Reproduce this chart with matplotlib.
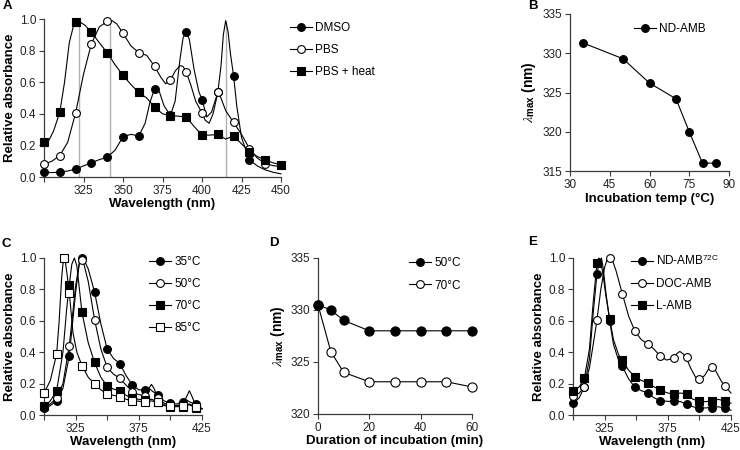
import matplotlib
matplotlib.use('Agg')
import matplotlib.pyplot as plt
from matplotlib.lines import Line2D

plt.rcParams['font.family'] = ['Liberation Sans', 'DejaVu Sans']
plt.rcParams['mathtext.fontset'] = 'stix'

# ---------------- panel A : spectra in DMSO / PBS / PBS + heat ----------------
a_mk_nm = [300, 310, 320, 330, 340, 350, 360, 370, 380, 390, 400, 410, 420, 430, 440, 450]
a_dmso_mk = [0.03, 0.03, 0.05, 0.09, 0.125, 0.255, 0.26, 0.56, 0.39, 0.92, 0.49, 0.535, 0.64, 0.11]
a_pbs_mk = [0.083, 0.136, 0.405, 0.844, 0.985, 0.91, 0.787, 0.70, 0.612, 0.665, 0.405, 0.535, 0.345, 0.18, 0.085]
a_heat_mk = [0.22, 0.41, 0.983, 0.917, 0.787, 0.644, 0.535, 0.443, 0.388, 0.38, 0.265, 0.27, 0.26, 0.16, 0.107, 0.075]

a_dmso_nm = [300, 305, 310, 315, 320, 325, 330, 335, 340, 345, 350, 355, 360, 364, 367, 370, 373, 376,
             380, 383, 386, 388, 390, 392, 395, 398, 400, 403, 406, 410, 412, 413.5, 415, 416.5, 418,
             420, 422, 425, 430, 435, 440, 445, 450]
a_dmso = [0.03, 0.028, 0.03, 0.038, 0.05, 0.07, 0.09, 0.11, 0.125, 0.17, 0.255, 0.27, 0.26, 0.34, 0.47,
          0.56, 0.54, 0.45, 0.39, 0.48, 0.74, 0.88, 0.92, 0.87, 0.68, 0.54, 0.49, 0.38, 0.41, 0.535,
          0.70, 0.90, 0.99, 0.92, 0.78, 0.64, 0.45, 0.25, 0.11, 0.07, 0.045, 0.03, 0.02]
a_pbs_nm = [300, 305, 310, 315, 320, 325, 330, 335, 340, 343, 346, 350, 355, 360, 365, 370, 374, 377,
            380, 383, 386, 388, 390, 393, 396, 400, 402, 404.5, 407, 410, 412, 415, 420, 425, 430,
            435, 440, 445, 450]
a_pbs = [0.08, 0.1, 0.136, 0.22, 0.405, 0.65, 0.844, 0.95, 0.985, 0.99, 0.97, 0.91, 0.83, 0.787, 0.77,
         0.70, 0.63, 0.59, 0.612, 0.67, 0.705, 0.70, 0.665, 0.58, 0.48, 0.405, 0.36, 0.34, 0.40,
         0.535, 0.50, 0.42, 0.345, 0.27, 0.18, 0.12, 0.085, 0.072, 0.065]
a_heat_nm = [300, 303, 306, 310, 313, 316, 319, 321, 323, 326, 330, 335, 340, 345, 350, 355, 360, 365,
             370, 375, 380, 385, 390, 395, 400, 405, 410, 415, 420, 425, 430, 435, 440, 445, 450]
a_heat = [0.21, 0.23, 0.29, 0.41, 0.6, 0.85, 0.97, 0.985, 0.98, 0.96, 0.917, 0.85, 0.787, 0.71, 0.644,
          0.585, 0.535, 0.50, 0.443, 0.40, 0.388, 0.385, 0.38, 0.32, 0.265, 0.265, 0.27, 0.24, 0.26,
          0.21, 0.16, 0.13, 0.107, 0.09, 0.075]
a_peak_nm = [322, 341.5, 415]
a_peak_top = [0.98, 0.99, 0.99]

# ---------------- panel B : lambda max vs incubation temperature ----------------
b_temp = [35, 50, 60, 70, 75, 80, 85]
b_lmax = [331.3, 329.3, 326.2, 324.2, 320.0, 316.0, 316.0]

# ---------------- panel C : spectra after incubation at 35-85 C ----------------
c_mk_nm = [300, 310, 320, 330, 340, 350, 360, 370, 380, 390, 400, 410, 420]
c35_mk = [0.042, 0.09, 0.377, 1.0, 0.784, 0.42, 0.328, 0.19, 0.16, 0.13, 0.074, 0.085, 0.07]
c50_mk = [0.053, 0.11, 0.44, 0.985, 0.608, 0.303, 0.233, 0.148, 0.123, 0.106, 0.064, 0.06, 0.055]
c70_mk = [0.055, 0.155, 0.83, 0.655, 0.335, 0.184, 0.155, 0.106, 0.095, 0.085, 0.053, 0.053, 0.047]
c85_mk_nm = [300, 310, 315.5, 320, 330, 340, 350, 360, 370, 380, 390, 400, 410, 420]
c85_mk = [0.138, 0.388, 1.0, 0.78, 0.315, 0.2, 0.135, 0.117, 0.09, 0.085, 0.08, 0.06, 0.06, 0.05]

c35_nm = [300, 305, 310, 315, 320, 325, 328, 331, 335, 340, 345, 350, 355, 360, 365, 370, 375, 380,
          383, 386, 390, 395, 400, 405, 410, 413, 416, 420, 425]
c35 = [0.035, 0.06, 0.09, 0.17, 0.377, 0.78, 0.97, 1.0, 0.93, 0.784, 0.58, 0.42, 0.36, 0.328, 0.25,
       0.19, 0.16, 0.16, 0.17, 0.15, 0.13, 0.09, 0.074, 0.07, 0.085, 0.095, 0.08, 0.07, 0.04]
c50_nm = [300, 305, 310, 315, 320, 325, 328, 329.5, 331, 335, 340, 345, 350, 355, 360, 365, 370, 375,
          380, 383, 385, 387, 390, 395, 400, 405, 410, 413, 415, 417, 420, 425]
c50 = [0.05, 0.07, 0.11, 0.2, 0.44, 0.82, 0.97, 0.99, 0.98, 0.85, 0.608, 0.42, 0.303, 0.26, 0.233,
       0.19, 0.148, 0.13, 0.123, 0.17, 0.195, 0.17, 0.106, 0.075, 0.064, 0.06, 0.07, 0.12, 0.155,
       0.12, 0.06, 0.04]
c70_nm = [300, 305, 310, 315, 318, 320, 322, 324, 326, 330, 335, 340, 345, 350, 355, 360, 365, 370,
          375, 380, 385, 390, 395, 400, 405, 410, 415, 420, 425]
c70 = [0.05, 0.09, 0.155, 0.4, 0.68, 0.83, 0.96, 1.0, 0.95, 0.655, 0.46, 0.335, 0.24, 0.184, 0.165,
       0.155, 0.125, 0.106, 0.1, 0.095, 0.1, 0.085, 0.06, 0.053, 0.053, 0.055, 0.065, 0.047, 0.04]
c85_nm = [300, 305, 310, 312, 314, 315.5, 317, 318.5, 320, 323, 326, 330, 335, 340, 345, 350, 355,
          360, 365, 370, 380, 385, 390, 395, 400, 410, 415, 420, 425]
c85 = [0.138, 0.22, 0.388, 0.6, 0.88, 1.0, 0.97, 0.88, 0.78, 0.52, 0.4, 0.315, 0.24, 0.2, 0.16, 0.135,
       0.125, 0.117, 0.1, 0.09, 0.085, 0.09, 0.08, 0.065, 0.06, 0.06, 0.07, 0.05, 0.04]

# ---------------- panel D : lambda max vs duration of incubation ----------------
d_time = [0, 5, 10, 20, 30, 40, 50, 60]
d50 = [330.5, 330.0, 329.0, 328.0, 328.0, 328.0, 328.0, 328.0]
d70 = [330.5, 326.0, 324.0, 323.1, 323.1, 323.1, 323.1, 322.6]

# ---------------- panel E : ND-AMB72C vs DOC-AMB vs L-AMB ----------------
e_mk_nm = [300, 309, 319, 329, 339, 349, 359, 369, 380, 390, 400, 410, 420]
e_nd_mk = [0.074, 0.18, 0.90, 0.60, 0.311, 0.176, 0.142, 0.091, 0.088, 0.07, 0.045, 0.045, 0.045]
e_doc_mk = [0.123, 0.18, 0.608, 1.0, 0.773, 0.534, 0.455, 0.375, 0.36, 0.367, 0.229, 0.307, 0.186]
e_lamb_mk = [0.155, 0.233, 0.97, 0.614, 0.35, 0.244, 0.206, 0.159, 0.133, 0.133, 0.088, 0.088, 0.088]

e_nd_nm = [300, 305, 309, 313, 316, 319, 321, 322.5, 324, 326, 329, 332, 336, 339, 344, 349, 354, 359,
           364, 369, 375, 380, 385, 390, 395, 400, 405, 410, 415, 420, 425]
e_nd = [0.07, 0.11, 0.18, 0.36, 0.65, 0.90, 0.985, 1.0, 0.93, 0.78, 0.60, 0.45, 0.35, 0.31, 0.23,
        0.176, 0.155, 0.142, 0.11, 0.091, 0.087, 0.088, 0.085, 0.07, 0.052, 0.045, 0.045, 0.05,
        0.052, 0.045, 0.03]
e_doc_nm = [300, 305, 309, 313, 316, 319, 322, 325, 327, 329, 331, 334, 339, 344, 349, 354, 359, 364,
            369, 374, 379, 382, 384.5, 387, 389.5, 393, 397, 400, 404, 407, 410, 413, 417, 420, 425]
e_doc = [0.12, 0.14, 0.18, 0.3, 0.45, 0.608, 0.8, 0.94, 0.99, 1.0, 0.99, 0.92, 0.773, 0.63, 0.534,
         0.48, 0.455, 0.42, 0.375, 0.35, 0.36, 0.39, 0.405, 0.39, 0.367, 0.3, 0.24, 0.229, 0.25,
         0.29, 0.307, 0.28, 0.22, 0.186, 0.14]
e_lamb_nm = [300, 305, 309, 313, 316, 319, 320.5, 322, 324, 326, 329, 332, 336, 339, 344, 349, 354,
             359, 364, 369, 375, 380, 385, 390, 395, 400, 405, 410, 415, 420, 425]
e_lamb = [0.15, 0.18, 0.233, 0.42, 0.72, 0.97, 1.0, 0.98, 0.88, 0.76, 0.614, 0.48, 0.385, 0.35, 0.285,
          0.244, 0.22, 0.206, 0.18, 0.159, 0.14, 0.133, 0.14, 0.133, 0.1, 0.088, 0.085, 0.09, 0.1,
          0.088, 0.075]

W, H = 740, 450
AX_COL = '#3c3c3c'
MS = 5.6
LW = 0.8
LAMBDA_LABEL = r'$\lambda_{\mathregular{max}}$ (nm)'

# marker styles: filled circle, open circle, filled square, open square
STYLES = {
    'fc': dict(marker='o', mfc='black', mec='black'),
    'oc': dict(marker='o', mfc='white', mec='black'),
    'fs': dict(marker='s', mfc='black', mec='black'),
    'os': dict(marker='s', mfc='white', mec='black'),
}


def px_axes(fig, left, top, right, bottom):
    """ Axes placed with pixel edges of the 740x450 picture. """
    return fig.add_axes([left / W, 1 - bottom / H, (right - left) / W, (bottom - top) / H])


def style(ax):
    for s in ['top', 'right']:
        ax.spines[s].set_visible(False)
    for s in ['left', 'bottom']:
        ax.spines[s].set_color(AX_COL)
        ax.spines[s].set_linewidth(0.9)
    ax.tick_params(direction='out', length=3.5, width=0.8, color=AX_COL,
                   labelsize=8.5, pad=2, labelcolor='#222222')


def spectrum(ax, cx, cy, mx, my, key):
    ax.plot(cx, cy, color='black', lw=LW, zorder=2, clip_on=False)
    ax.plot(mx[:len(my)], my, ls='none', ms=MS, mew=0.8, zorder=3, clip_on=False, **STYLES[key])


def handle(key, ms=MS):
    return Line2D([], [], color='black', lw=LW, ms=ms, mew=0.8, **STYLES[key])


def legend(ax, keys, labels, x, y, spacing=0.85, ms=MS):
    ax.legend([handle(k, ms) for k in keys], labels, loc='upper left',
              bbox_to_anchor=(x / W, 1 - y / H), bbox_transform=ax.figure.transFigure,
              frameon=False, fontsize=8.5, numpoints=1, handlelength=1.9,
              handletextpad=0.25, labelspacing=spacing, borderpad=0, borderaxespad=0)


def spectrum_axes(ax, xmax, labelled):
    ax.set_xlim(300, xmax)
    ax.set_ylim(0, 1.0)
    ticks = list(range(300, xmax + 1, 25))
    ax.set_xticks(ticks)
    ax.set_xticklabels([str(t) if t in labelled else '' for t in ticks])
    ax.set_yticks([0, 0.2, 0.4, 0.6, 0.8, 1.0])
    ax.set_yticklabels(['0.0', '0.2', '0.4', '0.6', '0.8', '1.0'])
    ax.set_ylabel('Relative absorbance', fontsize=9.5, fontweight='bold', labelpad=3)


fig = plt.figure(figsize=(W / 100, H / 100), dpi=100)

# ---- A ----
axA = px_axes(fig, 44, 19, 281, 177)
style(axA)
axA.vlines(a_peak_nm, 0, a_peak_top, color='#b0b0b0', lw=1.0, zorder=1)
spectrum(axA, a_dmso_nm, a_dmso, a_mk_nm, a_dmso_mk, 'fc')
spectrum(axA, a_pbs_nm, a_pbs, a_mk_nm, a_pbs_mk, 'oc')
spectrum(axA, a_heat_nm, a_heat, a_mk_nm, a_heat_mk, 'fs')
spectrum_axes(axA, 450, [325, 350, 375, 400, 425, 450])
axA.set_xlabel('Wavelength (nm)', fontsize=9.5, fontweight='bold', labelpad=1)
legend(axA, ['fc', 'oc', 'fs'], ['DMSO', 'PBS', 'PBS + heat'], 290, 22)

# ---- B ----
axB = px_axes(fig, 570, 14, 729, 171)
style(axB)
axB.plot(b_temp, b_lmax, color='black', lw=LW, ms=MS, mew=0.8, clip_on=False, **STYLES['fc'])
axB.set_xlim(30, 90)
axB.set_ylim(315, 335)
axB.set_xticks([30, 45, 60, 75, 90])
axB.set_yticks([315, 320, 325, 330, 335])
axB.set_xlabel('Incubation temp (\u00b0C)', fontsize=9.5, fontweight='bold', labelpad=2)
axB.set_ylabel(LAMBDA_LABEL, fontsize=10, fontweight='bold', labelpad=3)
legend(axB, ['fc'], ['ND-AMB'], 634, 23)

# ---- C ----
axC = px_axes(fig, 44, 258, 202, 415)
style(axC)
spectrum(axC, c35_nm, c35, c_mk_nm, c35_mk, 'fc')
spectrum(axC, c50_nm, c50, c_mk_nm, c50_mk, 'oc')
spectrum(axC, c70_nm, c70, c_mk_nm, c70_mk, 'fs')
spectrum(axC, c85_nm, c85, c85_mk_nm, c85_mk, 'os')
spectrum_axes(axC, 425, [325, 375, 425])
axC.set_xlabel('Wavelength (nm)', fontsize=9.5, fontweight='bold', labelpad=1)
legend(axC, ['fc', 'oc', 'fs', 'os'], ['35\u00b0C', '50\u00b0C', '70\u00b0C', '85\u00b0C'], 149, 256)

# ---- D ----
axD = px_axes(fig, 318, 258, 472, 414)
style(axD)
axD.plot(d_time, d50, color='black', lw=LW, ms=MS + 1, mew=0.8, clip_on=False, zorder=3, **STYLES['fc'])
axD.plot(d_time, d70, color='black', lw=LW, ms=MS + 1, mew=0.8, clip_on=False, zorder=2, **STYLES['oc'])
axD.set_xlim(0, 60)
axD.set_ylim(320, 335)
axD.set_xticks([0, 20, 40, 60])
axD.set_yticks([320, 325, 330, 335])
axD.set_xlabel('Duration of incubation (min)', fontsize=9.5, fontweight='bold', labelpad=1)
axD.set_ylabel(LAMBDA_LABEL, fontsize=10, fontweight='bold', labelpad=3)
legend(axD, ['fc', 'oc'], ['50\u00b0C', '70\u00b0C'], 409, 257, 0.9)

# ---- E ----
axE = px_axes(fig, 573, 258, 731, 415)
style(axE)
spectrum(axE, e_nd_nm, e_nd, e_mk_nm, e_nd_mk, 'fc')
spectrum(axE, e_doc_nm, e_doc, e_mk_nm, e_doc_mk, 'oc')
spectrum(axE, e_lamb_nm, e_lamb, e_mk_nm, e_lamb_mk, 'fs')
spectrum_axes(axE, 425, [325, 375, 425])
axE.set_xlabel('Wavelength (nm)', fontsize=9.5, fontweight='bold', labelpad=1)
legend(axE, ['fc', 'oc', 'fs'], [r'ND-AMB$^{\mathregular{72C}}$', 'DOC-AMB', 'L-AMB'], 631, 254)

# panel letters
for letter, x, y in [('A', 3, 6), ('B', 528, 6), ('C', 2, 244), ('D', 269, 243), ('E', 528, 242)]:
    fig.text(x / W, 1 - y / H, letter, fontsize=9.5, fontweight='bold', va='center', ha='left')

fig.savefig('out.png', dpi=100)
